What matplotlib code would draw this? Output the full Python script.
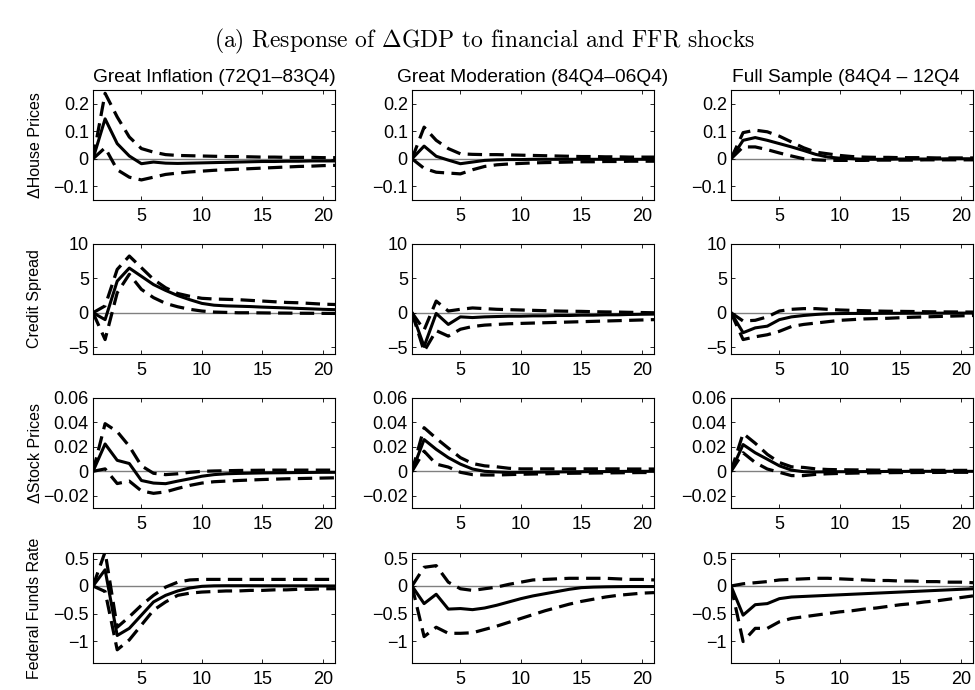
import numpy as np
import matplotlib
matplotlib.use("Agg")
import matplotlib.pyplot as plt

plt.rcParams["font.family"] = ["Liberation Sans", "DejaVu Sans"]
plt.rcParams["mathtext.fontset"] = "cm"
plt.rcParams["axes.unicode_minus"] = True

horizon = np.arange(1, 22)

sample_titles = ["Great Inflation (72Q1\u201383Q4)",
                 "Great Moderation (84Q4\u201306Q4)",
                 "Full Sample (84Q4 \u2013 12Q4"]
variable_labels = ["\u0394House Prices", "Credit Spread",
                   "\u0394Stock Prices", "Federal Funds Rate"]

# ---- Row 1: house prices -------------------------------------------------
hp_gi_mid = [0, 0.145, 0.055, 0.01, -0.018, -0.012, -0.016, -0.017, -0.016, -0.015,
             -0.014, -0.013, -0.012, -0.011, -0.010, -0.010, -0.009, -0.009, -0.008, -0.008, -0.008]
hp_gi_hi = [0, 0.238, 0.152, 0.079, 0.037, 0.024, 0.015, 0.012, 0.011, 0.010,
            0.009, 0.008, 0.008, 0.007, 0.006, 0.006, 0.005, 0.005, 0.005, 0.004, 0.004]
hp_gi_lo = [0, 0.04, -0.04, -0.067, -0.077, -0.067, -0.057, -0.052, -0.048, -0.045,
            -0.042, -0.040, -0.038, -0.036, -0.034, -0.032, -0.030, -0.028, -0.027, -0.025, -0.024]

hp_gm_mid = [0, 0.046, 0.009, -0.005, -0.018, -0.012, -0.006, -0.004, -0.003, -0.003,
             -0.002, -0.002, -0.002, -0.002, -0.002, -0.002, -0.002, -0.002, -0.002, -0.002, -0.002]
hp_gm_hi = [0, 0.115, 0.067, 0.037, 0.018, 0.016, 0.015, 0.015, 0.014, 0.013,
            0.012, 0.011, 0.010, 0.009, 0.008, 0.008, 0.007, 0.007, 0.006, 0.006, 0.006]
hp_gm_lo = [0, -0.035, -0.049, -0.052, -0.055, -0.040, -0.028, -0.022, -0.019, -0.017,
            -0.015, -0.014, -0.013, -0.012, -0.011, -0.011, -0.010, -0.010, -0.009, -0.009, -0.009]

hp_fs_mid = [0, 0.067, 0.077, 0.067, 0.055, 0.043, 0.030, 0.016, 0.006, 0.002,
             0.0, -0.002, -0.002, -0.002, -0.001, -0.001, -0.001, -0.001, 0.0, 0.0, 0.0]
hp_fs_hi = [0, 0.095, 0.104, 0.098, 0.082, 0.061, 0.040, 0.024, 0.018, 0.012,
            0.008, 0.006, 0.005, 0.005, 0.004, 0.004, 0.004, 0.003, 0.003, 0.003, 0.003]
hp_fs_lo = [0, 0.043, 0.043, 0.033, 0.021, 0.010, 0.0, -0.004, -0.006, -0.006,
            -0.006, -0.006, -0.005, -0.005, -0.005, -0.005, -0.004, -0.004, -0.004, -0.004, -0.004]

# ---- Row 2: credit spread ------------------------------------------------
cs_gi_mid = [0, -1.0, 4.6, 6.5, 5.3, 4.1, 3.25, 2.5, 1.9, 1.36,
             1.1, 1.0, 0.95, 0.9, 0.82, 0.76, 0.7, 0.63, 0.57, 0.5, 0.45]
cs_gi_hi = [0, 1.0, 6.3, 8.25, 6.55, 4.85, 3.64, 2.8, 2.4, 2.1,
            2.0, 1.95, 1.9, 1.8, 1.7, 1.6, 1.5, 1.45, 1.35, 1.25, 1.2]
cs_gi_lo = [0, -3.9, 2.9, 5.6, 3.4, 2.2, 1.36, 0.87, 0.5, 0.25,
            0.1, 0.05, 0.0, 0.0, -0.02, -0.04, -0.05, -0.07, -0.08, -0.09, -0.1]

cs_gm_mid = [0, -4.9, -0.1, -1.7, -0.6, -0.7, -0.6, -0.55, -0.5, -0.5,
             -0.45, -0.45, -0.4, -0.4, -0.35, -0.35, -0.3, -0.3, -0.25, -0.22, -0.2]
cs_gm_hi = [0, -2.5, 1.7, 0.25, 0.5, 0.7, 0.6, 0.5, 0.45, 0.4,
            0.35, 0.3, 0.25, 0.22, 0.2, 0.15, 0.12, 0.1, 0.06, 0.03, 0.0]
cs_gm_lo = [0, -5.6, -2.6, -3.4, -2.4, -2.0, -1.8, -1.7, -1.6, -1.55,
            -1.5, -1.45, -1.4, -1.35, -1.3, -1.25, -1.2, -1.15, -1.1, -1.05, -1.0]

cs_fs_mid = [0, -2.9, -2.2, -1.95, -1.0, -0.6, -0.4, -0.25, -0.15, -0.12,
             -0.1, -0.1, -0.09, -0.08, -0.08, -0.07, -0.07, -0.06, -0.06, -0.05, -0.05]
cs_fs_hi = [0, -1.2, -1.1, -0.6, 0.25, 0.5, 0.6, 0.6, 0.5, 0.4,
            0.35, 0.3, 0.25, 0.22, 0.2, 0.18, 0.15, 0.13, 0.12, 0.11, 0.1]
cs_fs_lo = [0, -3.9, -3.5, -3.2, -2.7, -2.0, -1.7, -1.5, -1.3, -1.1,
            -1.0, -0.9, -0.85, -0.8, -0.72, -0.65, -0.6, -0.55, -0.5, -0.45, -0.4]

# ---- Row 3: stock prices -------------------------------------------------
sp_gi_mid = [0, 0.0224, 0.009, 0.0064, -0.0075, -0.0096, -0.0101, -0.008, -0.0061, -0.004,
             -0.0027, -0.002, -0.0017, -0.0015, -0.0013, -0.0012, -0.0011, -0.001, -0.0009, -0.0008, -0.0008]
sp_gi_hi = [0, 0.039, 0.0325, 0.0205, 0.0045, -0.0016, -0.0027, -0.002, -0.0008, 0.0,
            0.0003, 0.0005, 0.0007, 0.0008, 0.0009, 0.001, 0.001, 0.001, 0.001, 0.001, 0.001]
sp_gi_lo = [0, 0.002, -0.010, -0.008, -0.016, -0.018, -0.0168, -0.014, -0.0115, -0.0096,
            -0.0085, -0.008, -0.0075, -0.0071, -0.0067, -0.0064, -0.0061, -0.0059, -0.0057, -0.0055, -0.0053]

sp_gm_mid = [0, 0.026, 0.018, 0.0112, 0.0059, 0.0019, 0.0, -0.0005, -0.0008, -0.0008,
             -0.0007, -0.0006, -0.0005, -0.0004, -0.0003, -0.0002, -0.0002, -0.0001, 0.0, 0.0, 0.0]
sp_gm_hi = [0, 0.0357, 0.027, 0.019, 0.0112, 0.0064, 0.0045, 0.0037, 0.0025, 0.002,
            0.002, 0.002, 0.002, 0.002, 0.002, 0.002, 0.002, 0.002, 0.0019, 0.0019, 0.0019]
sp_gm_lo = [0, 0.0165, 0.0059, 0.0035, -0.0008, -0.0027, -0.003, -0.003, -0.0027, -0.0024,
            -0.0022, -0.002, -0.0018, -0.0016, -0.0015, -0.0014, -0.0013, -0.0012, -0.0011, -0.001, -0.001]

sp_fs_mid = [0, 0.0219, 0.0152, 0.0099, 0.0045, 0.001, -0.0003, -0.0005, -0.0004, -0.0003,
             -0.0003, -0.0002, -0.0002, -0.0001, -0.0001, 0.0, 0.0, 0.0, 0.0, 0.0, 0.0]
sp_fs_hi = [0, 0.031, 0.023, 0.0139, 0.0072, 0.0037, 0.0032, 0.002, 0.0015, 0.0013,
            0.0012, 0.0011, 0.001, 0.001, 0.0009, 0.0009, 0.0009, 0.0008, 0.0008, 0.0008, 0.0008]
sp_fs_lo = [0, 0.0152, 0.0072, 0.0019, -0.0008, -0.0035, -0.0035, -0.0025, -0.002, -0.0017,
            -0.0015, -0.0013, -0.0012, -0.0011, -0.001, -0.001, -0.0009, -0.0009, -0.0008, -0.0008, -0.0008]

# ---- Row 4: federal funds rate -------------------------------------------
ff_gi_mid = [0, 0.295, -0.9, -0.77, -0.53, -0.29, -0.17, -0.09, -0.036, -0.006,
             0.003, 0.005, 0.005, 0.005, 0.004, 0.004, 0.003, 0.003, 0.002, 0.001, 0.0]
ff_gi_hi = [0, 0.62, -0.75, -0.56, -0.35, -0.17, -0.02, 0.07, 0.11, 0.12,
            0.12, 0.12, 0.12, 0.12, 0.12, 0.12, 0.12, 0.12, 0.12, 0.12, 0.12]
ff_gi_lo = [0, -0.1, -1.16, -0.98, -0.71, -0.44, -0.29, -0.17, -0.13, -0.11,
            -0.1, -0.09, -0.09, -0.08, -0.08, -0.07, -0.07, -0.06, -0.06, -0.05, -0.05]

ff_gm_mid = [0, -0.32, -0.15, -0.42, -0.41, -0.43, -0.40, -0.35, -0.29, -0.23,
             -0.18, -0.14, -0.10, -0.06, -0.03, -0.02, -0.015, -0.012, -0.01, -0.01, -0.01]
ff_gm_hi = [0, 0.34, 0.37, 0.07, -0.05, -0.08, -0.05, -0.02, 0.03, 0.07,
            0.11, 0.12, 0.13, 0.14, 0.14, 0.14, 0.14, 0.13, 0.12, 0.12, 0.11]
ff_gm_lo = [0, -0.92, -0.75, -0.86, -0.86, -0.85, -0.79, -0.73, -0.66, -0.59,
            -0.52, -0.45, -0.39, -0.33, -0.28, -0.24, -0.20, -0.17, -0.15, -0.13, -0.12]

ff_fs_mid = [0, -0.53, -0.34, -0.32, -0.23, -0.20, -0.19, -0.18, -0.17, -0.16,
             -0.15, -0.14, -0.13, -0.12, -0.11, -0.10, -0.09, -0.08, -0.07, -0.06, -0.05]
ff_fs_hi = [0, 0.04, 0.06, 0.08, 0.11, 0.12, 0.13, 0.14, 0.14, 0.13,
            0.12, 0.11, 0.10, 0.10, 0.09, 0.09, 0.08, 0.08, 0.07, 0.07, 0.06]
ff_fs_lo = [0, -1.01, -0.77, -0.77, -0.65, -0.59, -0.56, -0.53, -0.50, -0.47,
            -0.45, -0.42, -0.40, -0.37, -0.34, -0.32, -0.29, -0.27, -0.24, -0.21, -0.18]

responses = [
    [(hp_gi_mid, hp_gi_lo, hp_gi_hi), (hp_gm_mid, hp_gm_lo, hp_gm_hi), (hp_fs_mid, hp_fs_lo, hp_fs_hi)],
    [(cs_gi_mid, cs_gi_lo, cs_gi_hi), (cs_gm_mid, cs_gm_lo, cs_gm_hi), (cs_fs_mid, cs_fs_lo, cs_fs_hi)],
    [(sp_gi_mid, sp_gi_lo, sp_gi_hi), (sp_gm_mid, sp_gm_lo, sp_gm_hi), (sp_fs_mid, sp_fs_lo, sp_fs_hi)],
    [(ff_gi_mid, ff_gi_lo, ff_gi_hi), (ff_gm_mid, ff_gm_lo, ff_gm_hi), (ff_fs_mid, ff_fs_lo, ff_fs_hi)],
]

row_ylims = [(-0.15, 0.25), (-6, 10), (-0.03, 0.06), (-1.4, 0.6)]
row_yticks = [[-0.1, 0, 0.1, 0.2], [-5, 0, 5, 10],
              [-0.02, 0, 0.02, 0.04, 0.06], [-1, -0.5, 0, 0.5]]
row_yticklabels = [["\u22120.1", "0", "0.1", "0.2"], ["\u22125", "0", "5", "10"],
                   ["\u22120.02", "0", "0.02", "0.04", "0.06"], ["\u22121", "\u22120.5", "0", "0.5"]]
x_ticks = [5, 10, 15, 20]

W, H = 975, 690
fig = plt.figure(figsize=(W / 100, H / 100), dpi=100)

col_left = [93, 412, 731]
row_top = [90, 244, 398, 553]
ax_w, ax_h = 242, 110

fig.text(485 / W, 1 - 41 / H,
         r"(a) Response of $\Delta$GDP to financial and FFR shocks",
         ha="center", va="center", fontsize=17, family="cmr10")

for r in range(4):
    for c in range(3):
        ax = fig.add_axes([col_left[c] / W, 1 - (row_top[r] + ax_h) / H, ax_w / W, ax_h / H])
        mid, lo, hi = responses[r][c]
        ax.axhline(0, color="#808080", lw=1.0, zorder=1)
        ax.plot(horizon, hi, color="black", lw=2.3, ls=(0, (4.5, 2.3)), zorder=3)
        ax.plot(horizon, lo, color="black", lw=2.3, ls=(0, (4.5, 2.3)), zorder=3)
        ax.plot(horizon, mid, color="black", lw=2.2, zorder=4)
        ax.set_xlim(1, 21)
        ax.set_ylim(*row_ylims[r])
        ax.set_xticks(x_ticks)
        ax.set_yticks(row_yticks[r])
        ax.set_yticklabels(row_yticklabels[r])
        ax.tick_params(direction="in", top=True, right=True, length=3, width=0.6,
                       labelsize=13)
        ax.tick_params(axis="y", pad=3)
        ax.tick_params(axis="x", pad=6)
        for s in ax.spines.values():
            s.set_linewidth(0.8)
        if r == 0:
            if c == 2:
                ax.set_title(sample_titles[c], fontsize=13.8, pad=6, loc="left", x=0.005)
            else:
                ax.set_title(sample_titles[c], fontsize=13.8, pad=6)
    fig.text(35 / W, 1 - (row_top[r] + ax_h / 2) / H, variable_labels[r],
             rotation=90, ha="center", va="center", fontsize=11.5)

fig.savefig("out.png", dpi=100)
